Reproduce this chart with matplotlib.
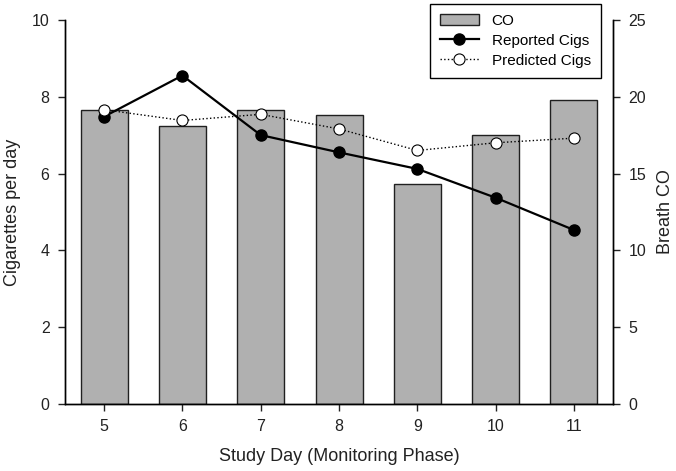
import matplotlib.pyplot as plt

plt.rcParams['font.family'] = ['Liberation Sans', 'DejaVu Sans']

days = [5, 6, 7, 8, 9, 10, 11]
co = [19.1, 18.1, 19.1, 18.8, 14.35, 17.5, 19.8]
reported = [7.48, 8.55, 7.0, 6.55, 6.12, 5.37, 4.53]
predicted = [7.66, 7.38, 7.54, 7.16, 6.6, 6.8, 6.92]

fig = plt.figure(figsize=(6.76, 4.71), dpi=100)
ax = fig.add_axes([0.096, 0.142, 0.811, 0.816])
ax2 = ax.twinx()
# lines above the bars
ax.set_zorder(ax2.get_zorder() + 1)
ax.patch.set_visible(False)

bars = ax2.bar(days, co, width=0.6, color='#b0b0b0', edgecolor='#202020',
               linewidth=1, label='CO')
l1, = ax.plot(days, reported, '-o', color='black', lw=1.6, ms=8,
              label='Reported Cigs')
l2, = ax.plot(days, predicted, ':o', color='black', lw=1, ms=8,
              mfc='white', mec='black', mew=0.8, label='Predicted Cigs')

ax.set_xlim(4.5, 11.5)
ax.set_ylim(0, 10)
ax2.set_ylim(0, 25)
ax.set_xticks(days)
ax.set_yticks(range(0, 11, 2))
ax2.set_yticks(range(0, 26, 5))

for a in (ax, ax2):
    a.spines['top'].set_visible(False)
    for s in a.spines.values():
        s.set_linewidth(1)
    a.tick_params(direction='out', length=5, width=1, labelsize=11.5,
                  colors='#222222', pad=6)

ax.set_xlabel('Study Day (Monitoring Phase)', fontsize=13, labelpad=10,
              color='#222222')
ax.set_ylabel('Cigarettes per day', fontsize=13, labelpad=8, color='#222222')
ax2.set_ylabel('Breath CO', fontsize=13, labelpad=8, color='#222222')

leg = ax.legend([bars, l1, l2], ['CO', 'Reported Cigs', 'Predicted Cigs'],
                loc='upper right', bbox_to_anchor=(0.991, 1.062), fontsize=11,
                fancybox=False, framealpha=1, edgecolor='black',
                handlelength=2.6, borderpad=0.65, labelspacing=0.4)
leg.get_frame().set_linewidth(1)

fig.savefig('out.png', dpi=100)
